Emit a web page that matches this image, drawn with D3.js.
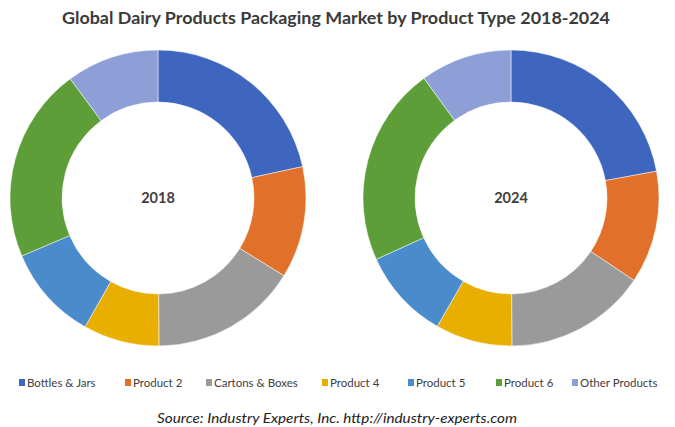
<!DOCTYPE html>
<html>
<head>
<meta charset="utf-8">
<script src="https://cdn.jsdelivr.net/npm/d3@7"></script>
<style>
  body { margin: 0; background: #fff; }
  svg text { font-family: Lato, "Open Sans", sans-serif; }
</style>
</head>
<body>
<script>
var w = 675;
var h = 427;

// Data (share of market, %)
var categories = ["Bottles & Jars", "Product 2", "Cartons & Boxes", "Product 4", "Product 5", "Product 6", "Other Products"];
var colors = ["#3F66BF", "#E0702A", "#9A9A9A", "#E8AE00", "#4A8CCB", "#5E9E38", "#8E9FD8"];
var years = ["2018", "2024"];
var values2018 = [21.6, 12.2, 16.1, 8.3, 10.4, 21.3, 10.1];
var values2024 = [22.1, 12.3, 15.5, 8.4, 9.9, 21.8, 10.0];

var svg = d3.select("body")
  .append("svg")
  .attr("width", w)
  .attr("height", h);

// Title
svg.append("text")
  .attr("x", 336)
  .attr("y", 24)
  .attr("text-anchor", "middle")
  .attr("font-size", 17.5)
  .attr("font-weight", "bold")
  .attr("fill", "#3a3a3a")
  .attr("textLength", 548)
  .attr("lengthAdjust", "spacingAndGlyphs")
  .text("Global Dairy Products Packaging Market by Product Type 2018-2024");

var color = d3.scaleOrdinal().domain(categories).range(colors);

var pie = d3.pie().sort(null).value(function(d) { return d.value; });
var arc = d3.arc().innerRadius(96).outerRadius(148);

var centers = [[158, 198], [511, 198]];
var series = [values2018, values2024];

series.forEach(function(vals, k) {
  var data = categories.map(function(c, i) { return { name: c, value: vals[i] }; });
  var g = svg.append("g")
    .attr("transform", "translate(" + centers[k][0] + "," + centers[k][1] + ")");

  g.selectAll("path")
    .data(pie(data))
    .enter()
    .append("path")
    .attr("d", arc)
    .attr("fill", function(d) { return color(d.data.name); })
    .attr("stroke", "#fff")
    .attr("stroke-width", 0.5);

  g.append("text")
    .attr("text-anchor", "middle")
    .attr("dy", "0.35em")
    .attr("font-size", 14.5)
    .attr("font-weight", "bold")
    .attr("fill", "#404040")
    .text(years[k]);
});

// Legend
var legendX = [19, 125, 206, 322, 408, 496, 572];
var legend = svg.append("g");
categories.forEach(function(c, i) {
  var item = legend.append("g").attr("transform", "translate(" + legendX[i] + ",383)");
  item.append("rect")
    .attr("x", 0)
    .attr("y", -4)
    .attr("width", 6)
    .attr("height", 7)
    .attr("fill", color(c));
  item.append("text")
    .attr("x", 8)
    .attr("y", 0)
    .attr("dy", "0.35em")
    .attr("font-size", 11.5)
    .attr("fill", "#404040")
    .text(c);
});

// Source line
svg.append("text")
  .attr("x", 337)
  .attr("y", 423)
  .attr("text-anchor", "middle")
  .attr("font-size", 13.5)
  .attr("font-style", "italic")
  .attr("fill", "#222")
  .attr("textLength", 360)
  .attr("lengthAdjust", "spacingAndGlyphs")
  .text("Source: Industry Experts, Inc. http://industry-experts.com");
</script>
</body>
</html>
